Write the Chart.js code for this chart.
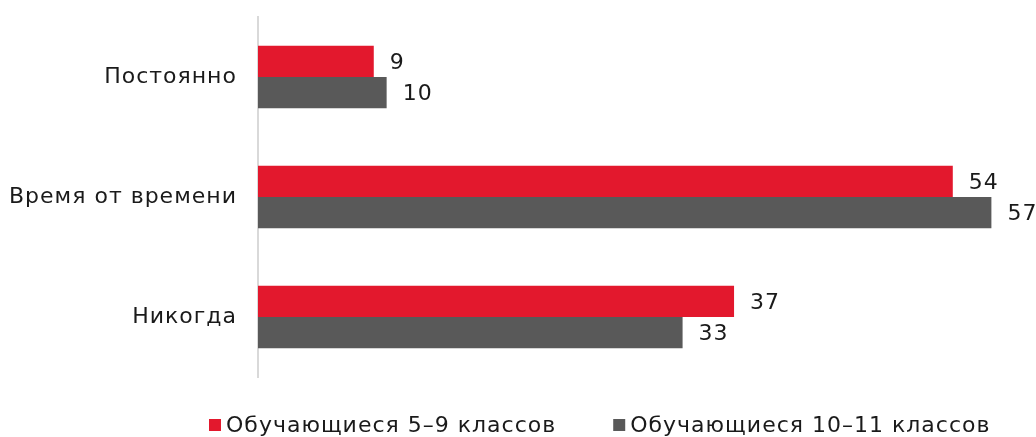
<!DOCTYPE html>
<html>
<head>
<meta charset="utf-8">
<script src="https://cdn.jsdelivr.net/npm/chart.js@4/dist/chart.umd.min.js"></script>
<style>
  body { margin: 0; background: #fff; }
  #wrap { width: 1036px; height: 437px; }
</style>
</head>
<body>
<div id="wrap"><canvas id="barChart"></canvas></div>
<script>
const categories = ["Постоянно", "Время от времени", "Никогда"]
const grades59 = [9, 54, 37]
const grades1011 = [10, 57, 33]
const seriesNames = ["Обучающиеся 5–9 классов", "Обучающиеся 10–11 классов"]
const seriesColors = ["#e3182d", "#595959"]

const FONT = "'DejaVu Sans', sans-serif"
const TEXT = "#1a1a1a"
const SPACING = "1px"

// the original font is wider, so spread letters a little
// (resizing the canvas resets the context, so set it again each time)
const wideText = {
  id: "wideText",
  beforeUpdate(chart) {
    chart.ctx.letterSpacing = SPACING
  },
  beforeDraw(chart) {
    chart.ctx.letterSpacing = SPACING
  },
}

// value labels right of each bar
const valueLabels = {
  id: "valueLabels",
  afterDatasetsDraw(chart) {
    const ctx = chart.ctx
    ctx.save()
    ctx.font = "22px " + FONT
    ctx.fillStyle = TEXT
    ctx.textAlign = "left"
    ctx.textBaseline = "middle"
    chart.data.datasets.forEach((ds, i) => {
      chart.getDatasetMeta(i).data.forEach((bar, j) => {
        ctx.fillText(ds.data[j], bar.x + 16, bar.y + 2)
      })
    })
    ctx.restore()
  },
}

// legend under the plot, a bit right of centre like the original
const bottomLegend = {
  id: "bottomLegend",
  afterDraw(chart) {
    const ctx = chart.ctx
    ctx.save()
    ctx.font = "22px " + FONT
    ctx.textBaseline = "middle"
    ctx.textAlign = "left"
    let x = 209
    const y = 426
    chart.data.datasets.forEach((ds) => {
      ctx.fillStyle = ds.backgroundColor
      ctx.fillRect(x, y - 7, 12, 12)
      ctx.fillStyle = TEXT
      ctx.fillText(ds.label, x + 17, y)
      x += 17 + ctx.measureText(ds.label).width + 57
    })
    ctx.restore()
  },
}

new Chart(document.getElementById("barChart"), {
  type: "bar",
  data: {
    labels: categories,
    datasets: [
      {
        label: seriesNames[0],
        data: grades59,
        backgroundColor: seriesColors[0],
        categoryPercentage: 0.52,
        barPercentage: 1,
      },
      {
        label: seriesNames[1],
        data: grades1011,
        backgroundColor: seriesColors[1],
        categoryPercentage: 0.52,
        barPercentage: 1,
      },
    ],
  },
  options: {
    indexAxis: "y",
    responsive: true,
    maintainAspectRatio: false,
    animation: false,
    layout: { padding: { top: 17, right: 6, bottom: 60, left: 8 } },
    scales: {
      x: { display: false, min: 0, max: 60 },
      y: {
        grid: { display: false, drawTicks: false },
        border: { display: true, color: "#d9d9d9", width: 2 },
        ticks: { color: TEXT, font: { family: FONT, size: 22 }, padding: 21 },
        afterFit(scale) {
          // no extra room above/below for the tick labels
          scale.paddingTop = 0
          scale.paddingBottom = 0
          // measured label width runs a bit wide, trim it
          scale.width -= 20
        },
      },
    },
    plugins: {
      tooltip: { enabled: false },
      legend: { display: false },
    },
  },
  plugins: [wideText, valueLabels, bottomLegend],
})
</script>
</body>
</html>
